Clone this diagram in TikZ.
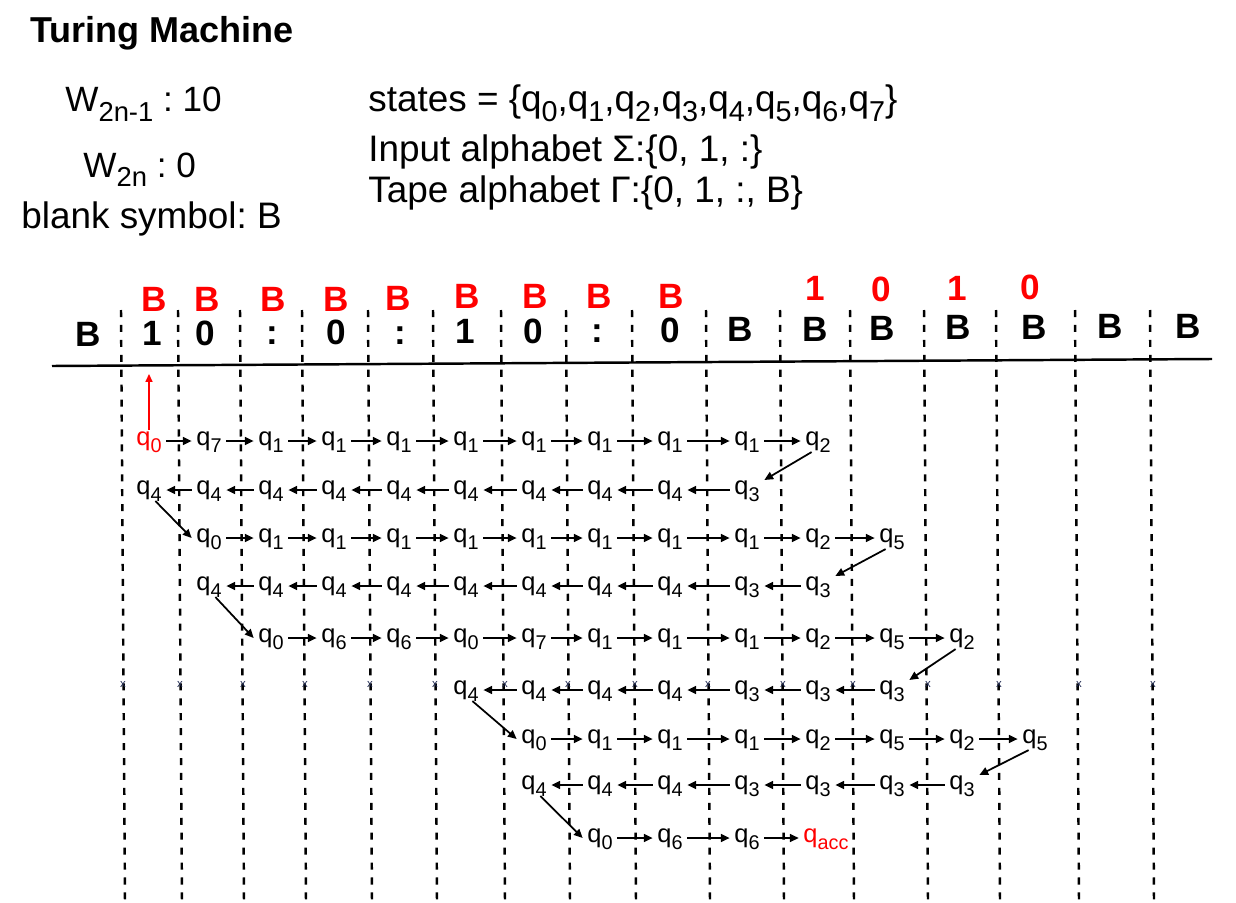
\documentclass[tikz,border=0pt]{standalone}
\usepackage{fontspec}
\setmainfont{Liberation Sans}
\usepackage{graphicx}
\usepackage{tikz}
\usetikzlibrary{arrows.meta}
\frenchspacing
\definecolor{tmred}{RGB}{255,0,0}
\definecolor{tickblue}{RGB}{30,40,80}
\newcommand\lowsub[1]{\raisebox{-.26em}{\scalebox{.78}{#1}}}
\newcommand\qst[1]{q\lowsub{#1}}
\tikzset{
  titletxt/.style={anchor=base west,inner sep=0pt,font=\fontsize{20.5}{24}\selectfont\bfseries},
  headtxt/.style={anchor=base west,inner sep=0pt,font=\fontsize{21}{25}\selectfont},
  wordtxt/.style={anchor=base west,inner sep=0pt,font=\fontsize{20}{24}\selectfont},
  tapesym/.style={inner sep=0pt,text height=.716em,text depth=0pt,font=\fontsize{20}{24}\selectfont\bfseries},
  writesym/.style={tapesym,text=tmred},
  stnode/.style={inner xsep=2.5pt,inner ysep=3.5pt,text height=.52em,text depth=0pt,font=\fontsize{14.5}{17}\selectfont},
  move/.style={-{Triangle[length=5pt,width=4.5pt]},line width=1pt},
  headarrow/.style={-{Triangle[length=4.5pt,width=4pt]},line width=.8pt,draw=tmred},
  cellsep/.style={line width=1.4pt,dash pattern=on 4pt off 4.5pt},
  tapeline/.style={line width=1.4pt},
  tickmark/.style={inner sep=0pt,font=\fontsize{6.5}{7}\selectfont,text=tickblue},
}

\begin{document}
\begin{tikzpicture}[x=0.02cm,y=-0.02cm]
  \useasboundingbox (0,0) rectangle (1236,902);
  % header
  \node[titletxt] (title) at (30,43) {Turing Machine};
  \node[wordtxt] (wodd) at (65,112) {W\lowsub{2n-1} : 10};
  \node[wordtxt] (weven) at (83,177) {W\lowsub{2n} : 0};
  \node[headtxt] (blank) at (21,228) {blank symbol: B};
  \node[headtxt] (states) at (368,112) {states = \{\qst{0},\qst{1},\qst{2},\qst{3},\qst{4},\qst{5},\qst{6},\qst{7}\}};
  \node[headtxt] (sigma) at (368,162) {Input alphabet Σ:\{0, 1, :\}};
  \node[headtxt] (gamma) at (368,202) {Tape alphabet Γ:\{0, 1, :, B\}};
  % tape
  \foreach \x in {121,178,240,302,368,433,501,566,632,706,780,850,924,996,1075,1150}
    \draw[cellsep] (\x,310) -- (\x+4,902);
  \draw[tapeline] (52,366) -- (1212,359);
  \foreach \x/\s [count=\k] in {88/B,152/1,205/0,272/:,336/0,400/:,465/1,533/0,597/:,670/0,740/B,815/B,882/B,958/B,1034/B,1110/B,1188/B}
    \node[tapesym] (t\k) at (\x,{340-(\x-88)*8/1100}) {\s};
  \foreach \x/\y/\s [count=\k] in {154/305/B,207/305/B,273/305/B,336/305/B,398/304/B,467/302/B,535/302/B,599/302/B,671/302/B,815/294/1,881/295/0,957/294/1,1030/293/0}
    \node[writesym] (w\k) at (\x,\y) {\s};
  \foreach \x [count=\k] in {123,180,243,305,370,435,505,568,635,708,783,853,928,999,1079,1153}
    \node[tickmark] (x\k) at (\x,684) {x};
  % columns
  \foreach \x [count=\k] in {149,209,271,334,399,466,534,600,670,747,818,892,962,1035}
    \coordinate (c\k) at (\x,0);
  % row 1
  \node[stnode,text=tmred] (r1c1) at (c1 |- 0,441) {\qst{0}};
  \foreach \s [count=\k from 2] in {7,1,1,1,1,1,1,1,1,2}
    \node[stnode] (r1c\k) at (c\k |- 0,441) {\qst{\s}};
  \foreach \k [evaluate=\k as \j using int(\k+1)] in {1,...,10}
    \draw[move] (r1c\k) -- (r1c\j);
  \coordinate (head) at (149,374);
  \draw[headarrow] (r1c1.north) -- (head);
  % row 2
  \foreach \s [count=\k] in {4,4,4,4,4,4,4,4,4,3}
    \node[stnode] (r2c\k) at (c\k |- 0,490) {\qst{\s}};
  \foreach \k [evaluate=\k as \j using int(\k+1)] in {1,...,9}
    \draw[move] (r2c\j) -- (r2c\k);
  % row 3
  \foreach \s [count=\k from 2] in {0,1,1,1,1,1,1,1,1,2,5}
    \node[stnode] (r3c\k) at (c\k |- 0,538) {\qst{\s}};
  \foreach \k [evaluate=\k as \j using int(\k+1)] in {2,...,11}
    \draw[move] (r3c\k) -- (r3c\j);
  % row 4
  \foreach \s [count=\k from 2] in {4,4,4,4,4,4,4,4,3,3}
    \node[stnode] (r4c\k) at (c\k |- 0,586) {\qst{\s}};
  \foreach \k [evaluate=\k as \j using int(\k+1)] in {2,...,10}
    \draw[move] (r4c\j) -- (r4c\k);
  % row 5
  \foreach \s [count=\k from 3] in {0,6,6,0,7,1,1,1,2,5,2}
    \node[stnode] (r5c\k) at (c\k |- 0,638) {\qst{\s}};
  \foreach \k [evaluate=\k as \j using int(\k+1)] in {3,...,12}
    \draw[move] (r5c\k) -- (r5c\j);
  % row 6
  \foreach \s [count=\k from 6] in {4,4,4,4,3,3,3}
    \node[stnode] (r6c\k) at (c\k |- 0,690) {\qst{\s}};
  \foreach \k [evaluate=\k as \j using int(\k+1)] in {6,...,11}
    \draw[move] (r6c\j) -- (r6c\k);
  % row 7
  \foreach \s [count=\k from 7] in {0,1,1,1,2,5,2,5}
    \node[stnode] (r7c\k) at (c\k |- 0,739) {\qst{\s}};
  \foreach \k [evaluate=\k as \j using int(\k+1)] in {7,...,13}
    \draw[move] (r7c\k) -- (r7c\j);
  % row 8
  \foreach \s [count=\k from 7] in {4,4,4,3,3,3,3}
    \node[stnode] (r8c\k) at (c\k |- 0,785) {\qst{\s}};
  \foreach \k [evaluate=\k as \j using int(\k+1)] in {7,...,12}
    \draw[move] (r8c\j) -- (r8c\k);
  % row 9
  \foreach \s [count=\k from 8] in {0,6,6}
    \node[stnode] (r9c\k) at (c\k |- 0,838) {\qst{\s}};
  \node[stnode,text=tmred] (r9c11) at (826,838) {\qst{acc}};
  \foreach \k [evaluate=\k as \j using int(\k+1)] in {8,...,10}
    \draw[move] (r9c\k) -- (r9c\j);
  % turns
  \draw[move] (r1c11.-120) -- (r2c10.30);
  \draw[move] (r2c1.-60) -- (r3c2.west);
  \draw[move] (r3c12.-120) -- (r4c11.30);
  \draw[move] (r4c2.-60) -- (r5c3.west);
  \draw[move] (r5c13.-120) -- (r6c12.30);
  \draw[move] (r6c6.-60) -- (r7c7.west);
  \draw[move] (r7c14.-120) -- (r8c13.30);
  \draw[move] (r8c7.-60) -- (r9c8.west);
\end{tikzpicture}
\end{document}
